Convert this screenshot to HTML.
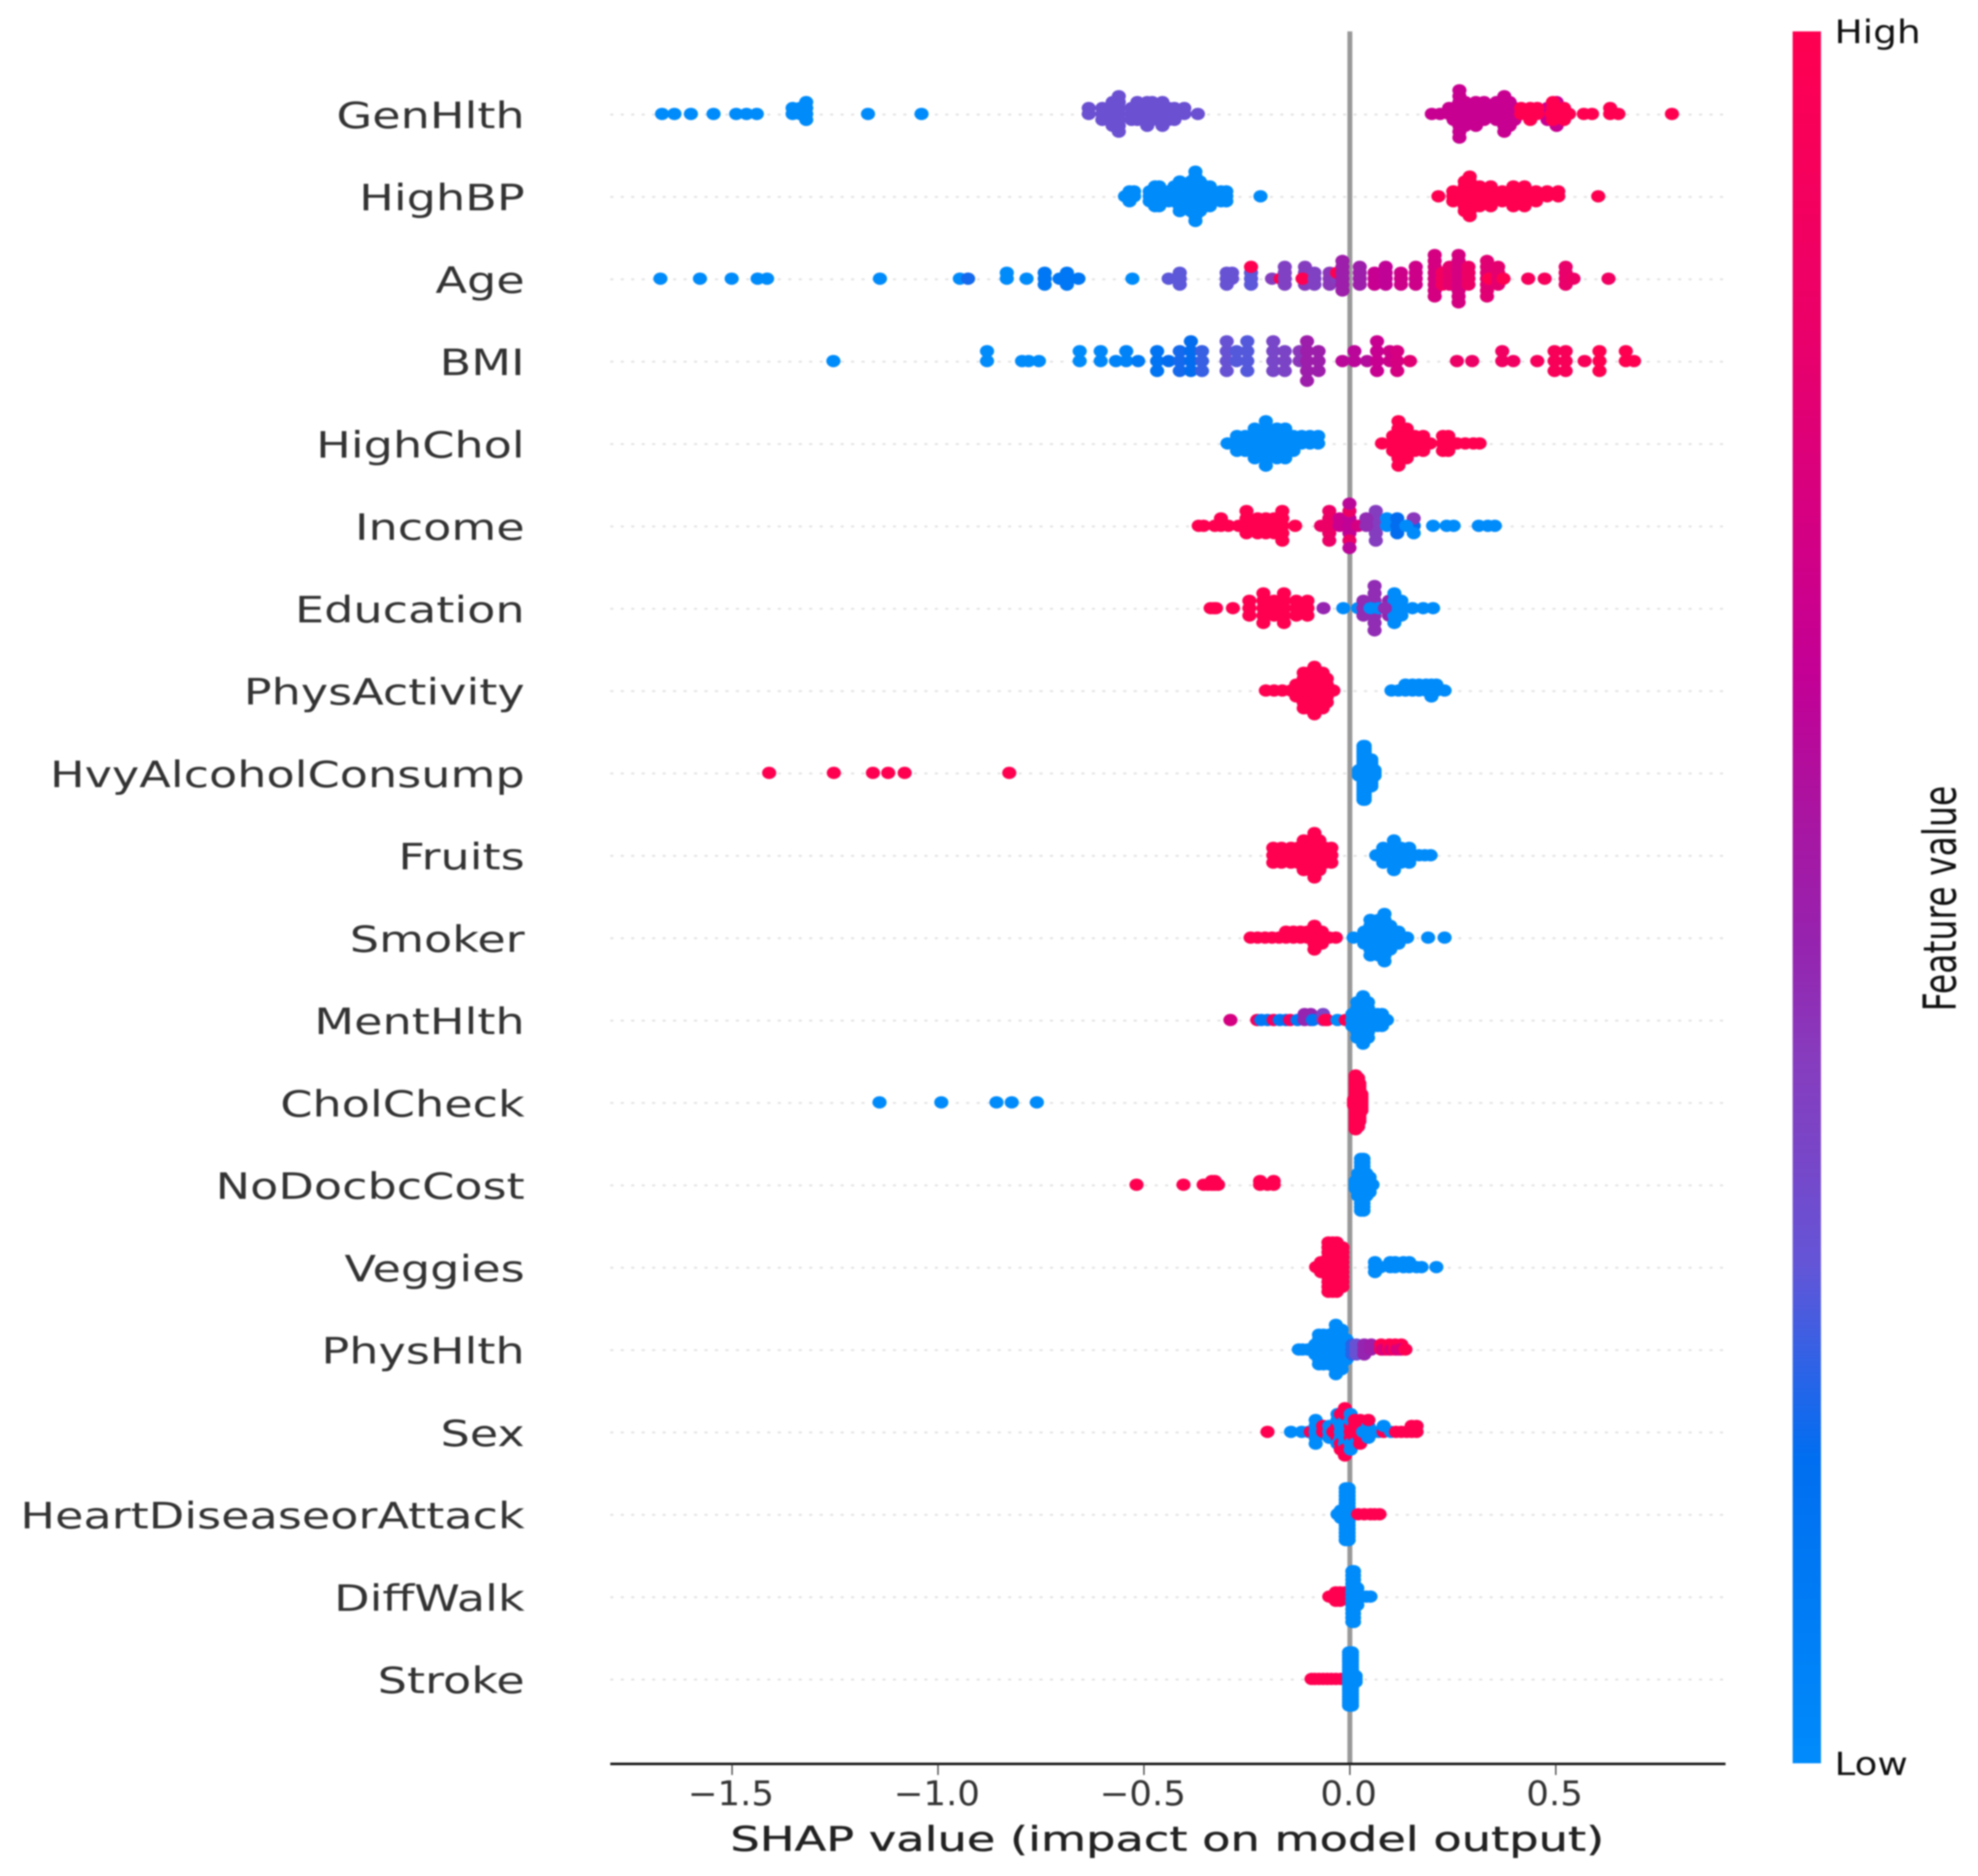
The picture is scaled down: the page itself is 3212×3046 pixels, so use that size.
<!DOCTYPE html>
<html lang="en">
<head>
<meta charset="utf-8">
<title>SHAP summary plot</title>
<style>
html,body{margin:0;padding:0;background:#fff;}
svg{display:block;filter:blur(1.4px);}
text{font-family:"DejaVu Sans","Liberation Sans",sans-serif;}
</style>
</head>
<body>
<svg id="chart" xmlns="http://www.w3.org/2000/svg" width="3212" height="3046" viewBox="0 0 3212 3046">
  <rect x="0" y="0" width="3212" height="3046" fill="#ffffff"/>
  <defs>
    <linearGradient id="cbGrad" x1="0" y1="1" x2="0" y2="0"></linearGradient>
  </defs>
  <g id="gridLayer"></g>
  <rect x="2188" y="51" width="8" height="2813" fill="#999999"/>
  <g id="dotLayer"></g>
  <g id="labelLayer"></g>
  <rect x="991" y="2862" width="1811" height="4" fill="#111111"/>
  <g id="tickLayer"></g>
  <text x="1186" y="3005" font-size="55" fill="#222222" stroke="#222222" stroke-width="0.6" textLength="1419" lengthAdjust="spacingAndGlyphs">SHAP value (impact on model output)</text>
  <rect x="2911" y="51" width="46" height="2812" fill="url(#cbGrad)"/>
  <text x="2979" y="70" font-size="53" fill="#111111" textLength="140" lengthAdjust="spacingAndGlyphs">High</text>
  <text x="2979" y="2882" font-size="52" fill="#111111" textLength="119" lengthAdjust="spacingAndGlyphs">Low</text>
  <text transform="translate(3176,1642) rotate(-90) scale(0.725,1)" font-size="74" fill="#111111">Feature value</text>
</svg>
<script>
// Categories, top to bottom
const features = ['GenHlth','HighBP','Age','BMI','HighChol','Income','Education','PhysActivity','HvyAlcoholConsump','Fruits','Smoker','MentHlth','CholCheck','NoDocbcCost','Veggies','PhysHlth','Sex','HeartDiseaseorAttack','DiffWalk','Stroke'];
const tickValues = [-1.5,-1.0,-0.5,0.0,0.5];
const tickLabels = ['\u22121.5','\u22121.0','\u22120.5','0.0','0.5'];

// Each entry: [SHAP value, number of samples at that value, normalised feature value]
const genHlthPoints = [[-1.67,1,0],[-1.64,1,0],[-1.60,1,0],[-1.545,1,0],[-1.49,1,0],[-1.465,1,0],[-1.44,1,0],[-1.353,2,0],[-1.335,2,0],[-1.32,4,0],[-1.17,1,0],[-1.04,1,0],
[-.634,2,.31],[-.601,3,.31],[-.576,5,.31],[-.561,7,.31],[-.53,3,.31],[-.516,4,.31],[-.492,5,.31],[-.48,4,.31],[-.455,5,.31],[-.44,3,.31],[-.426,3,.31],[-.402,2,.31],[-.369,1,.31],
[.199,1,.65],[.219,1,.65],[.241,2,.65],[.252,3,.65],[.266,9,.65],[.28,5,.65],[.306,5,.65],[.326,4,.65],[.356,4,.65],[.375,7,.65],[.388,5,.65],[.40,3,.65],[.48,3,.65],[.502,5,.65],
[.416,2,1],[.438,3,1],[.455,2,1],[.49,1,1],[.493,4,1],[.52,3,1],[.532,1,1],[.568,1,1],[.588,1,1],[.632,2,1],[.652,1,1],[.782,1,1]];

const highBPPoints = [[-.546,1,0],[-.535,3,0],[-.524,2,0],[-.486,3,0],[-.473,5,0],[-.463,5,0],[-.44,3,0],[-.426,4,0],[-.413,7,0],[-.40,5,0],[-.386,7,0],[-.375,11,0],[-.364,7,0],[-.35,5,0],[-.34,5,0],[-.313,3,0],[-.30,3,0],[-.217,1,0],
[.215,1,1],[.251,3,1],[.279,7,1],[.291,9,1],[.315,5,1],[.342,5,1],[.37,3,1],[.397,5,1],[.424,5,1],[.452,3,1],[.479,2,1],[.506,2,1],[.603,1,1]];

const agePoints = [[-1.674,1,0],[-1.578,1,0],[-1.501,1,0],[-1.438,1,0],[-1.415,1,0],[-1.141,1,0],[-.947,1,0],[-.927,1,.2],[-.833,2,0],[-.785,1,0],[-.741,3,.12],[-.705,1,.12],[-.687,3,.12],[-.659,1,.12],[-.528,1,0],[-.44,1,.28],[-.413,3,.28],[-.299,3,.3],[-.286,2,.3],[-.24,3,.28],[-.24,1,1],[-.189,1,.4],[-.168,1,1],[-.158,4,.38],[-.109,4,.4],[-.115,1,1],[-.086,3,.38],[-.049,3,.42],[-.031,1,.4],[-.031,1,1],[-.018,6,.5],[.024,4,.5],[.06,3,.65],[.087,4,.62],[.124,3,.68],[.16,4,.68],[.206,8,.72],[.225,3,.9],[.242,4,.8],[.264,9,.72],[.288,4,.85],[.333,7,.78],[.338,1,1],[.36,4,.8],[.373,1,1],[.433,1,.92],[.473,1,.92],[.524,4,.82],[.543,1,.85],[.628,1,.88]];

const bmiPoints = [[-1.254,1,0],[-.881,2,0],[-.796,1,0],[-.78,1,0],[-.755,1,0],[-.656,2,0],[-.605,2,.02],[-.568,1,.05],[-.543,2,.05],[-.514,1,.1],[-.468,3,.14],[-.44,1,.18],[-.413,3,.2],[-.386,4,.18],[-.359,3,.24],[-.299,4,.3],[-.275,2,.27],[-.249,4,.27],[-.186,4,.35],[-.158,3,.36],[-.122,2,.42],[-.104,5,.5],[-.076,3,.5],[-.018,1,.6],[.011,2,.6],[.042,1,.58],[.066,4,.65],[.097,2,.68],[.115,3,.72],[.146,1,.78],[.26,1,.85],[.297,1,.85],[.37,2,.88],[.397,1,.88],[.455,1,.92],[.497,3,.95],[.524,3,.95],[.57,1,.95],[.606,3,1],[.67,2,1],[.69,1,1]];

const highCholPoints = [[-.297,1,0],[-.274,3,0],[-.254,3,0],[-.231,5,0],[-.204,7,0],[-.177,5,0],[-.157,5,0],[-.137,3,0],[-.117,2,0],[-.097,2,0],[-.077,2,0],
[.078,1,1],[.105,3,1],[.118,7,1],[.138,5,1],[.158,3,1],[.178,3,1],[.195,1,1],[.226,3,1],[.239,3,1],[.26,1,1],[.28,1,1],[.30,1,1],[.315,1,1]];

const incomePoints = [[-.367,1,1],[-.355,1,1],[-.328,1,1],[-.313,2,1],[-.295,1,1],[-.27,1,1],[-.251,4,1],[-.224,3,1],[-.204,3,1],[-.184,3,1],[-.164,5,1],[-.133,1,1],
[-.07,1,.85],[-.05,5,.85],[-.025,2,.66],[-.001,3,.62],[-.001,2,.85],[-.001,2,.6],[.02,1,.72],[.063,5,.4],[.04,2,.45],[.09,2,0],[.115,3,.18],[.155,1,.18],[.155,1,.42],[.155,1,0],[.137,1,0],[.202,1,0],[.235,1,0],[.252,1,0],[.313,1,0],[.335,1,0],[.352,1,0]];

const educationPoints = [[-.338,1,1],[-.33,1,1],[-.325,1,1],[-.284,1,1],[-.244,3,1],[-.21,5,1],[-.184,3,1],[-.16,5,1],[-.13,3,1],[-.103,3,1],[-.064,1,.47],[-.016,1,0],[.02,1,0],[.033,3,.45],[.06,7,.45],[.095,3,.47],[.108,5,0],[.05,1,0],[.07,1,0],[.085,1,.45],[.125,3,0],[.152,1,0],[.178,1,0],[.202,1,0]];

const physActivityPoints = [[-.204,1,1],[-.184,1,1],[-.164,1,1],[-.143,1,1],[-.13,3,1],[-.112,7,1],[-.1,7,1],[-.086,9,1],[-.066,7,1],[-.056,5,1],[-.04,1,1],
[.101,1,0],[.118,1,0],[.135,2,0],[.152,2,0],[.168,2,0],[.185,2,0],[.198,3,0],[.21,2,0],[.23,1,0]];

const hvyAlcoholPoints = [[-1.41,1,1],[-1.253,1,1],[-1.158,1,1],[-1.121,1,1],[-1.081,1,1],[-.827,1,1],[.022,3,0],[.033,21,0],[.036,21,0],[.045,11,0],[.052,11,0],[.06,3,0]];

const fruitsPoints = [[-.186,3,1],[-.166,3,1],[-.143,3,1],[-.126,3,1],[-.112,5,1],[-.097,5,1],[-.086,7,1],[-.074,5,1],[-.06,3,1],[-.045,3,1],
[.064,1,0],[.081,3,0],[.107,5,0],[.124,3,0],[.144,3,0],[.155,1,0],[.168,1,0],[.182,1,0],[.196,1,0]];

const smokerPoints = [[-.241,1,1],[-.224,1,1],[-.206,1,1],[-.189,1,1],[-.172,1,1],[-.155,2,1],[-.137,2,1],[-.12,2,1],[-.103,2,1],[-.086,5,1],[-.068,3,1],[-.05,1,1],[-.034,1,1],
[.009,1,0],[.035,3,0],[.05,7,0],[.07,7,0],[.084,9,0],[.098,5,0],[.118,3,0],[.139,1,0],[.19,1,0],[.23,1,0]];

const mentHlthPoints = [[-.29,1,.72],[-.225,1,.9],[-.215,1,.12],[-.2,1,.12],[-.185,1,.9],[-.17,1,.12],[-.155,1,.15],[-.145,1,.9],[-.127,1,.12],[-.11,2,.47],[-.095,2,.47],[-.09,1,.12],[-.065,2,.36],[-.06,1,1],[-.055,1,1],[-.03,1,0],[-.01,1,1],[.006,3,0],[.018,7,0],[.032,9,0],[.044,7,0],[.055,3,0],[.067,3,0],[.078,3,0],[.09,1,0]];

const cholCheckPoints = [[-1.142,1,0],[-.992,1,0],[-.858,1,0],[-.821,1,0],[-.76,1,0],[.01,3,1],[.014,21,1],[.02,19,1],[.023,15,1],[.028,7,1]];

const noDocPoints = [[-.518,1,1],[-.404,1,1],[-.355,1,1],[-.345,1,1],[-.335,2,1],[-.328,2,1],[-.32,1,1],[-.218,2,1],[-.2,1,1],[-.185,2,1],[.014,3,0],[.02,7,0],[.027,15,0],[.033,15,0],[.04,7,0],[.048,5,0],[.055,1,0]];

const veggiesPoints = [[-.082,1,1],[-.07,3,1],[-.052,11,1],[-.042,11,1],[-.032,11,1],[-.024,9,1],[-.018,9,1],
[.061,3,0],[.075,1,0],[.098,2,0],[.11,2,0],[.13,2,0],[.144,2,0],[.162,1,0],[.174,1,0],[.21,1,0]];

const physHlthPoints = [[-.124,1,0],[-.115,1,0],[-.102,1,0],[-.084,3,0],[-.075,7,0],[-.064,7,0],[-.05,7,0],[-.034,11,0],[-.02,9,0],[-.008,5,0],[.006,3,.22],[.016,3,.3],[.035,3,.47],[.052,2,.5],
[.076,2,1],[.088,1,1],[.08,1,.75],[.096,2,1],[.1,1,.75],[.11,2,1],[.115,1,.75],[.125,2,1],[.122,1,.75],[.135,1,1]];

const sexPoints = [[-.2,1,1],[-.143,1,0],[-.117,1,0],[-.1,1,0],[-.095,1,1],[-.083,5,0],[-.065,2,1],[-.05,3,0],[-.04,1,1],[-.03,3,1],[-.03,3,0],[-.022,4,0],[-.022,3,1],[-.012,5,0],[-.012,4,1],[.002,3,1],[.002,4,0],[.012,4,1],[.012,1,0],[.025,5,1],[.032,1,0],[.045,3,0],[.045,1,1],[.06,1,0],[.07,1,0],[.082,1,1],[.082,1,0],[.1,1,0],[.112,1,1],[.125,1,1],[.138,1,1],[.15,2,1],[.162,2,1]];

const heartPoints = [[-.03,1,0],[-.022,3,0],[-.01,15,0],[-.006,15,0],[-.003,15,0],[.02,1,1],[.035,1,1],[.05,1,1],[.06,1,1],[.072,1,1]];

const diffWalkPoints = [[-.05,1,1],[-.042,1,1],[-.034,3,1],[-.024,3,1],[-.012,2,1],[.006,13,0],[.01,13,0],[.018,5,0],[.03,1,0],[.04,1,0],[.05,1,0]];

const strokePoints = [[-.093,1,1],[-.085,1,1],[-.075,1,1],[-.065,1,1],[-.055,1,1],[-.045,1,1],[-.034,1,1],[-.022,1,1],[-.002,19,0],[.002,19,0],[.005,19,0],[.014,3,0]];

const rowSeries = [genHlthPoints,highBPPoints,agePoints,bmiPoints,highCholPoints,incomePoints,educationPoints,physActivityPoints,hvyAlcoholPoints,fruitsPoints,smokerPoints,mentHlthPoints,cholCheckPoints,noDocPoints,veggiesPoints,physHlthPoints,sexPoints,heartPoints,diffWalkPoints,strokePoints];

// Axis functions
const NS = 'http://www.w3.org/2000/svg';
function xScale(v){ return 2192 + 668.8 * v; }
function yScale(i){ return 186 + i * 133.74; }

// Colormap (position along bar, r, g, b)
const cmap = [[0,0,139,251],[.176,0,110,240],[.222,40,100,232],[.288,100,85,215],[.349,120,70,200],[.407,135,60,190],[.473,150,35,175],[.55,170,20,160],[.627,195,0,150],[.83,235,0,105],[1,255,0,81]];
function colorOf(t){
  for(let i=1;i<cmap.length;i++){
    if(t<=cmap[i][0]){
      const a=cmap[i-1], b=cmap[i], k=(t-a[0])/(b[0]-a[0]);
      return 'rgb('+Math.round(a[1]+(b[1]-a[1])*k)+','+Math.round(a[2]+(b[2]-a[2])*k)+','+Math.round(a[3]+(b[3]-a[3])*k)+')';
    }
  }
  return 'rgb(255,0,81)';
}
const grad = document.getElementById('cbGrad');
cmap.forEach(function(c){
  const s=document.createElementNS(NS,'stop');
  s.setAttribute('offset',c[0]);
  s.setAttribute('stop-color','rgb('+c[1]+','+c[2]+','+c[3]+')');
  grad.appendChild(s);
});

const gridLayer=document.getElementById('gridLayer');
const dotLayer=document.getElementById('dotLayer');
const labelLayer=document.getElementById('labelLayer');
const tickLayer=document.getElementById('tickLayer');

features.forEach(function(name,i){
  const y=yScale(i);
  const guide=document.createElementNS(NS,'line');
  
  
  guide.setAttribute('x1',991);guide.setAttribute('x2',2802);
  guide.setAttribute('y1',y);guide.setAttribute('y2',y);
  guide.setAttribute('stroke','#e2e2e2');guide.setAttribute('stroke-width',3);
  guide.setAttribute('stroke-dasharray','5 12');
  gridLayer.appendChild(guide);

  const label=document.createElementNS(NS,'text');
  
  
  label.setAttribute('transform','translate(852,'+(y+22)+') scale(1.27,1)');
  label.setAttribute('text-anchor','end');
  label.setAttribute('font-size',59);
  label.setAttribute('fill','#333333');
  label.textContent=name;
  labelLayer.appendChild(label);

  // Beeswarm: same value stacks alternately above and below, row scaled to fit
  const layers=new Map();
  const marks=[];
  let maxLevel=0;
  rowSeries[i].forEach(function(p){
    for(let k=0;k<p[1];k++){
      const layer=layers.get(p[0])||0;
      const level=Math.ceil(layer/2)*((layer%2)*2-1);
      layers.set(p[0],layer+1);
      maxLevel=Math.max(maxLevel,Math.abs(level));
      marks.push({v:p[0],level:level,f:p[2]});
    }
  });
  const step=48/(maxLevel+1);
  marks.forEach(function(m){
    const dot=document.createElementNS(NS,'ellipse');
    
    
    dot.setAttribute('cx',xScale(m.v));
    dot.setAttribute('cy',y-1-m.level*step);
    dot.setAttribute('rx',11.5);
    dot.setAttribute('ry',10);
    dot.setAttribute('fill',colorOf(m.f));
    dotLayer.appendChild(dot);
  });
});

tickValues.forEach(function(v,i){
  const x=xScale(v);
  const tick=document.createElementNS(NS,'line');
  
  
  tick.setAttribute('x1',x);tick.setAttribute('x2',x);
  tick.setAttribute('y1',2864);tick.setAttribute('y2',2882);
  tick.setAttribute('stroke','#333333');tick.setAttribute('stroke-width',2);
  tickLayer.appendChild(tick);
  const t=document.createElementNS(NS,'text');
  
  
  t.setAttribute('transform','translate('+(x-2)+',2931) scale(1.05,1)');
  t.setAttribute('text-anchor','middle');
  t.setAttribute('font-size',55);
  t.setAttribute('fill','#333333');
  t.textContent=tickLabels[i];
  tickLayer.appendChild(t);
});
</script>
</body>
</html>
